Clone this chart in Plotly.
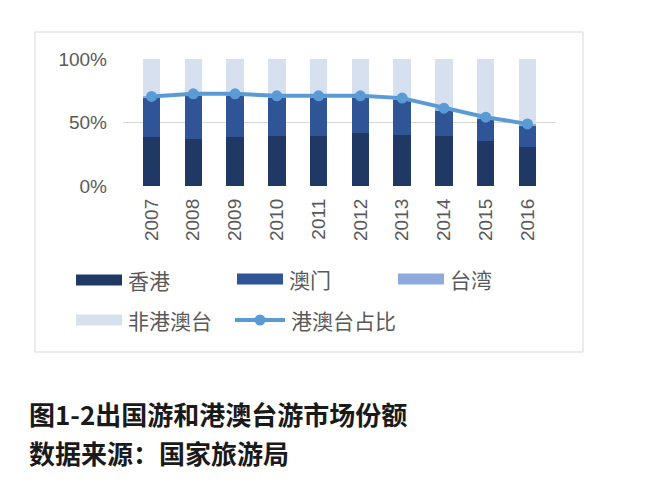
import plotly.graph_objects as go

# 数据
years = ["2007", "2008", "2009", "2010", "2011", "2012", "2013", "2014", "2015", "2016"]
hongkong = [0.384, 0.374, 0.384, 0.395, 0.395, 0.416, 0.403, 0.397, 0.355, 0.305]
macau = [0.311, 0.342, 0.332, 0.303, 0.303, 0.279, 0.276, 0.201, 0.171, 0.164]
taiwan = [0.010, 0.010, 0.010, 0.012, 0.012, 0.015, 0.013, 0.015, 0.016, 0.020]
others = [0.295, 0.274, 0.274, 0.290, 0.290, 0.290, 0.308, 0.387, 0.458, 0.511]
hmt_share = [0.705, 0.726, 0.726, 0.710, 0.710, 0.710, 0.692, 0.613, 0.542, 0.489]

c_hk = "#203864"
c_mo = "#2f5597"
c_tw = "#8faadc"
c_other = "#d7e0ee"
c_line = "#5b9bd5"
grey_txt = "#595959"

# la page HTML ajoute une marge de 8 px autour de la figure
OFF = 8
W, H = 650 - OFF, 482 - OFF
L, R, T, B = 123 - OFF, 556 - OFF, 59 - OFF, 186 - OFF   # zone du tracé


def px(x):
    return (x - OFF - L) / (R - L)


def py(y):
    return (B - (y - OFF)) / (B - T)


fig = go.Figure()
for name, vals, col in [("香港", hongkong, c_hk), ("澳门", macau, c_mo),
                        ("台湾", taiwan, c_tw), ("非港澳台", others, c_other)]:
    fig.add_trace(go.Bar(x=years, y=vals, name=name, marker=dict(color=col, line=dict(width=0)),
                         showlegend=False))

fig.add_trace(go.Scatter(x=years, y=hmt_share, name="港澳台占比", mode="lines+markers",
                         line=dict(color=c_line, width=4),
                         marker=dict(color=c_line, size=11), showlegend=False))

shapes = []
annotations = []

# cadre autour du graphique
shapes.append(dict(type="rect", xref="paper", yref="paper",
                   x0=px(35), x1=px(583), y0=py(32), y1=py(352),
                   line=dict(color="#d9d9d9", width=1), layer="below"))

# légende faite à la main
legend_items = [("香港", c_hk, 76, 280, "bar"), ("澳门", c_mo, 237, 279, "bar"),
                ("台湾", c_tw, 398, 279, "bar"), ("非港澳台", c_other, 76, 320, "bar"),
                ("港澳台占比", c_line, 235, 320, "line")]
for label, col, x0, yc, kind in legend_items:
    if kind == "bar":
        shapes.append(dict(type="rect", xref="paper", yref="paper",
                           x0=px(x0), x1=px(x0 + 46), y0=py(yc + 5.5), y1=py(yc - 5.5),
                           fillcolor=col, line=dict(width=0)))
    else:
        shapes.append(dict(type="line", xref="paper", yref="paper",
                           x0=px(x0), x1=px(x0 + 50), y0=py(yc), y1=py(yc),
                           line=dict(color=col, width=4)))
        shapes.append(dict(type="circle", xref="paper", yref="paper",
                           x0=px(x0 + 19.5), x1=px(x0 + 30.5), y0=py(yc + 5.5), y1=py(yc - 5.5),
                           fillcolor=col, line=dict(width=0)))
    tx = x0 + (46 if kind == "bar" else 50) + 4
    annotations.append(dict(text=label, xref="paper", yref="paper", x=px(tx), y=py(yc),
                            xanchor="left", yanchor="middle", showarrow=False,
                            font=dict(family="Noto Sans CJK SC", size=21, color=grey_txt)))

# titre et source sous le graphique
for txt, yc in [("图1-2出国游和港澳台游市场份额", 413), ("数据来源：国家旅游局", 452)]:
    annotations.append(dict(text=txt, xref="paper", yref="paper", x=px(27), y=py(yc),
                            xanchor="left", yanchor="middle", showarrow=False,
                            font=dict(family="Noto Sans CJK SC", size=26, color="#1a1a1a",
                                      weight="bold")))

fig.update_layout(
    width=W, height=H,
    margin=dict(l=L, r=W - R, t=T, b=H - B),
    barmode="stack", bargap=0.58,
    plot_bgcolor="white", paper_bgcolor="white",
    shapes=shapes, annotations=annotations,
    xaxis=dict(type="category", tickangle=-90, showgrid=False, showline=False,
               ticks="", ticklabelstandoff=8,
               tickfont=dict(family="Liberation Sans, Arial", size=19, color=grey_txt)),
    yaxis=dict(range=[0, 1], tickvals=[0, 0.5, 1], tickformat=".0%",
               showgrid=True, gridcolor="#d9d9d9", gridwidth=1, zeroline=False,
               showline=False, ticks="", ticklabelstandoff=15,
               tickfont=dict(family="Liberation Sans, Arial", size=19, color=grey_txt)),
)

fig.write_html("out.html")
